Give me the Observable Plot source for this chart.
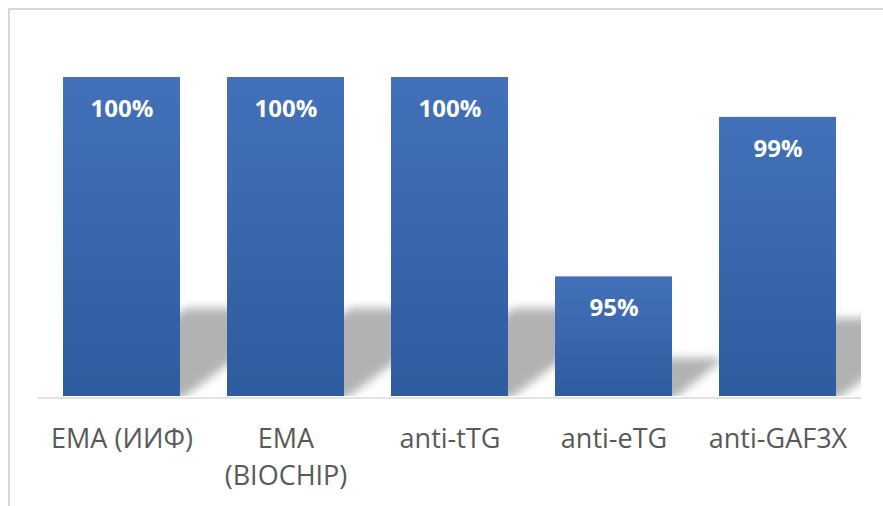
<!DOCTYPE html>
<html>
<head>
<meta charset="utf-8">
<script src="https://cdn.jsdelivr.net/npm/d3@7"></script>
<script src="https://cdn.jsdelivr.net/npm/@observablehq/plot@0.6"></script>
<style>
  body { margin: 0; background: #fff; }
  #chart { position: relative; width: 883px; height: 506px; overflow: hidden; }
  #chart svg { position: absolute; left: 0; top: 0; }
  #border {
    position: absolute; left: 8px; top: 8px; width: 900px; height: 520px;
    border-left: 2px solid #d9d9d9; border-top: 2px solid #d9d9d9;
    pointer-events: none;
  }
</style>
</head>
<body>
<div id="chart"><div id="border"></div></div>
<script>
// Test sensitivity by method
const categories = ["EMA (ИИФ)", "EMA (BIOCHIP)", "anti-tTG", "anti-eTG", "anti-GAF3X"];
const tickLabels = ["EMA (ИИФ)", "EMA\n(BIOCHIP)", "anti-tTG", "anti-eTG", "anti-GAF3X"];
const values = [100, 100, 100, 95, 99];
const valueLabels = ["100%", "100%", "100%", "95%", "99%"];

const yMin = 92;
const yMax = 100;

const data = categories.map((c, i) => ({category: c, value: values[i], label: valueLabels[i]}));

const W = 883, H = 506;
const M = {top: 77, right: 22, bottom: 110, left: 38};

// Perspective drop shadow behind each bar, skewed toward the upper right
function shadowRender(index, scales, channels, dimensions) {
  const {x, y} = scales;
  const bw = x.bandwidth();
  const yb = y(yMin);
  const g = d3.create("svg:g");
  const clip = g.append("clipPath").attr("id", "shadow-clip");
  clip.append("rect")
    .attr("x", dimensions.marginLeft)
    .attr("y", 0)
    .attr("width", dimensions.width - dimensions.marginLeft - dimensions.marginRight)
    .attr("height", yb);
  const filter = g.append("filter").attr("id", "shadow-blur")
    .attr("x", "-30%").attr("y", "-60%").attr("width", "160%").attr("height", "220%");
  filter.append("feGaussianBlur").attr("stdDeviation", 5);
  const inner = g.append("g").attr("clip-path", "url(#shadow-clip)")
    .append("g").attr("filter", "url(#shadow-blur)");
  for (const i of index) {
    const d = data[i];
    const x0 = x(d.category), x1 = x0 + bw;
    const h = yb - y(d.value);
    const sh = 0.25 * h + 8;
    const dx = 1.4 * sh;
    const pts = [[x0, yb + 4], [x1, yb + 4], [x1 + dx, yb - sh], [x0 + dx, yb - sh]];
    inner.append("polygon")
      .attr("points", pts.map(p => p.join(",")).join(" "))
      .attr("fill", "#b2b2b2");
  }
  return g.node();
}

const plot = Plot.plot({
  width: W,
  height: H,
  marginTop: M.top,
  marginRight: M.right,
  marginBottom: M.bottom,
  marginLeft: M.left,
  style: {fontFamily: "Open Sans", color: "#595959", background: "transparent", overflow: "visible"},
  x: {domain: categories, paddingInner: 0.289, paddingOuter: 0.1445, axis: null},
  y: {domain: [yMin, yMax], axis: null},
  marks: [
    Plot.barY(data, {x: "category", y1: yMin, y2: "value", render: shadowRender}),
    Plot.ruleY([yMin], {stroke: "#d9d9d9", strokeWidth: 1.5, dy: 1.5}),
    Plot.barY(data, {x: "category", y1: yMin, y2: "value", fill: "url(#barGrad)"}),
    Plot.text(data, {
      x: "category", y: "value", text: "label",
      lineAnchor: "bottom", dy: 39.5,
      fill: "white", fontSize: 24, fontWeight: "bold"
    }),
    Plot.axisX({
      label: null,
      tickSize: 0, tickPadding: 25, fontSize: 27, lineHeight: 1.37,
      style: {letterSpacing: "1px"},
      tickFormat: d => tickLabels[categories.indexOf(d)]
    })
  ]
});

// Vertical gradient used by the bars
const defs = d3.select(plot).insert("defs", ":first-child");
const grad = defs.append("linearGradient").attr("id", "barGrad")
  .attr("x1", 0).attr("y1", 0).attr("x2", 0).attr("y2", 1);
grad.append("stop").attr("offset", "0%").attr("stop-color", "#4371b9");
grad.append("stop").attr("offset", "100%").attr("stop-color", "#2f5b9f");

document.getElementById("chart").prepend(plot);
</script>
</body>
</html>
